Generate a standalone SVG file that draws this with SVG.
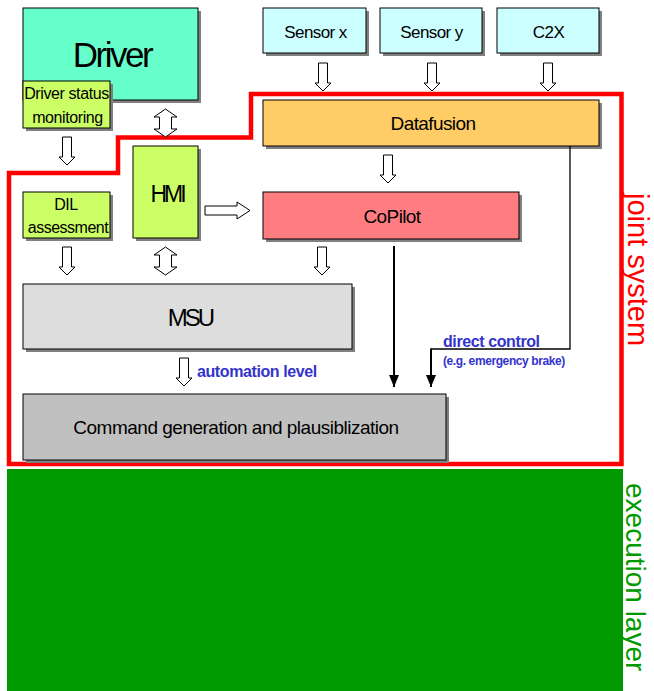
<svg xmlns="http://www.w3.org/2000/svg" width="654" height="691" viewBox="0 0 654 691">
<style>
.box{stroke:#000;stroke-width:1}
.sh{fill:#808080}
.t{font-family:"Liberation Sans",Arial,sans-serif;fill:#000;text-anchor:middle}
.ha{fill:#fff;stroke:#000;stroke-width:1}
.bl{font-family:"Liberation Sans",Arial,sans-serif;fill:#3333cc;font-weight:bold}
.ln{fill:none;stroke:#000}
</style>
<defs>
<path id="dn" d="M-4.5,0 H4.5 V20 H8 L0,28 L-8,20 H-4.5 Z"/>
<path id="dbl" d="M0,0 L11.5,8 H6 V20 H11.5 L0,28 L-11.5,20 H-6 V8 H-11.5 Z"/>
<marker id="ah" markerWidth="12" markerHeight="10" refX="12" refY="5" orient="auto" markerUnits="userSpaceOnUse" viewBox="0 0 12 10">
<path d="M0,0 L12,5 L0,10 Z" fill="#000"/>
</marker>
</defs>
<rect width="654" height="691" fill="#fff"/>

<g id="execution-layer">
<rect x="7" y="469" width="616" height="222" fill="#009900"/>
<text transform="translate(626,483) rotate(90)" font-family="Liberation Sans,Arial,sans-serif" font-size="28" fill="#009900">execution layer</text>
</g>

<g id="joint-system">
<path d="M9,464 V173 H118 V137.5 H251 V94 H621.5 V464 Z" fill="none" stroke="#ff0000" stroke-width="4.5"/>
<text transform="translate(628,193) rotate(90)" font-family="Liberation Sans,Arial,sans-serif" font-size="29" fill="#ff0000">joint system</text>
</g>

<g id="driver">
<rect class="sh" x="26" y="11" width="175" height="92"/>
<rect class="box" x="23" y="8" width="175" height="92" fill="#66ffcc"/>
<text class="t" x="112" y="67" font-size="35" letter-spacing="-2.5">Driver</text>
</g>

<g id="driver-status-monitoring">
<rect class="sh" x="26" y="84" width="87" height="47"/>
<rect class="box" x="23" y="81" width="87" height="47" fill="#ccff66"/>
<text class="t" x="66.5" y="99" font-size="16" letter-spacing="-0.4">Driver status</text>
<text class="t" x="67.5" y="123" font-size="16" letter-spacing="-0.4">monitoring</text>
</g>

<g id="hmi">
<rect class="sh" x="136" y="149" width="65" height="92"/>
<rect class="box" x="133" y="146" width="65" height="92" fill="#ccff66"/>
<text class="t" x="167" y="202" font-size="23" letter-spacing="-3">HMI</text>
</g>

<g id="dil-assessment">
<rect class="sh" x="26" y="195" width="87" height="46"/>
<rect class="box" x="23" y="192" width="87" height="46" fill="#ccff66"/>
<text class="t" x="66" y="210" font-size="16" letter-spacing="-0.4">DIL</text>
<text class="t" x="68" y="233" font-size="16" letter-spacing="-0.5">assessment</text>
</g>

<g id="sensor-x">
<rect class="sh" x="266" y="11" width="103" height="45"/>
<rect class="box" x="263" y="8" width="103" height="45" fill="#ccffff"/>
<text class="t" x="315.5" y="38" font-size="17" letter-spacing="-0.6">Sensor x</text>
</g>

<g id="sensor-y">
<rect class="sh" x="383" y="11" width="102" height="45"/>
<rect class="box" x="380" y="8" width="102" height="45" fill="#ccffff"/>
<text class="t" x="431.5" y="38" font-size="17" letter-spacing="-0.6">Sensor y</text>
</g>

<g id="c2x">
<rect class="sh" x="500" y="11" width="102" height="45"/>
<rect class="box" x="497" y="8" width="102" height="45" fill="#ccffff"/>
<text class="t" x="548.5" y="38" font-size="17" letter-spacing="-0.6">C2X</text>
</g>

<g id="datafusion">
<rect class="sh" x="266" y="103" width="336" height="46"/>
<rect class="box" x="263" y="100" width="336" height="46" fill="#ffcc66"/>
<text class="t" x="433" y="130" font-size="19" letter-spacing="-0.6">Datafusion</text>
</g>

<g id="copilot">
<rect class="sh" x="266" y="195" width="256" height="47"/>
<rect class="box" x="263" y="192" width="256" height="47" fill="#ff7c80"/>
<text class="t" x="392" y="223" font-size="19" letter-spacing="-0.6">CoPilot</text>
</g>

<g id="msu">
<rect class="sh" x="26" y="287" width="329" height="65"/>
<rect class="box" x="23" y="284" width="329" height="65" fill="#dddddd"/>
<text class="t" x="190" y="326" font-size="24" letter-spacing="-3">MSU</text>
</g>

<g id="command-generation">
<rect class="sh" x="26" y="397" width="423" height="66"/>
<rect class="box" x="23" y="394" width="423" height="66" fill="#c0c0c0"/>
<text class="t" x="236" y="434" font-size="19" letter-spacing="-0.5">Command generation and plausiblization</text>
</g>

<g id="connectors">
<use href="#dn" class="ha" x="323" y="63"/>
<use href="#dn" class="ha" x="432" y="63"/>
<use href="#dn" class="ha" x="548" y="63"/>
<use href="#dn" class="ha" x="388" y="155"/>
<use href="#dn" class="ha" x="67" y="137"/>
<use href="#dn" class="ha" x="67" y="247"/>
<use href="#dn" class="ha" x="322" y="247"/>
<use href="#dn" class="ha" x="184" y="358"/>
<use href="#dbl" class="ha" x="165.5" y="109"/>
<use href="#dbl" class="ha" x="165.5" y="247"/>
<path class="ha" d="M205,206 H237 V202 L250,210.5 L237,219 V215 H205 Z"/>
<line class="ln" x1="394" y1="246" x2="394" y2="387" stroke-width="2" marker-end="url(#ah)"/>
<polyline class="ln" points="570,146 570,349 431,349" stroke-width="1.3"/>
<line class="ln" x1="431" y1="348.4" x2="431" y2="387" stroke-width="2" marker-end="url(#ah)"/>
<text class="bl" x="443" y="347" font-size="16" letter-spacing="-0.4">direct control</text>
<text class="bl" x="443" y="365" font-size="12" letter-spacing="-0.4">(e.g. emergency brake)</text>
<text class="bl" x="197" y="377" font-size="16" letter-spacing="-0.4">automation level</text>
</g>
</svg>
